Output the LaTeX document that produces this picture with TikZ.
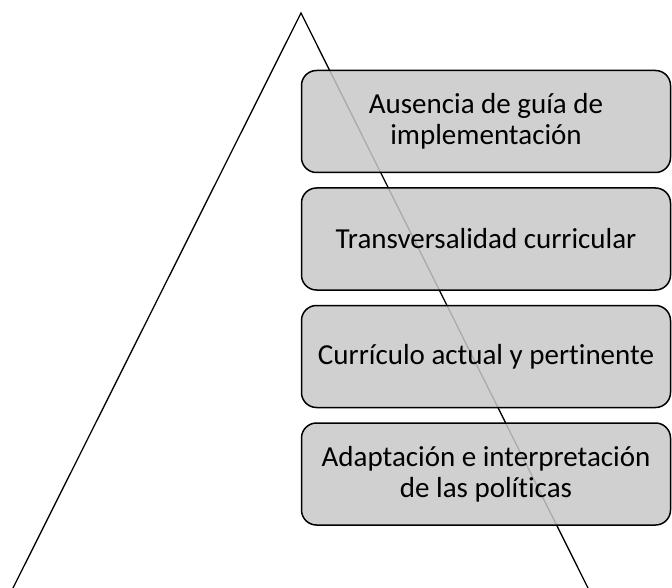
\documentclass[tikz,border=0pt]{standalone}
\usepackage{fontspec}
\setmainfont{Carlito}[Ligatures=NoCommon]
\usetikzlibrary{positioning}
\definecolor{boxgray}{RGB}{200,200,200}
\tikzset{
  levelbox/.style={draw=black, line width=1.5pt, fill=boxgray, fill opacity=0.85, text opacity=1,
    rounded corners=15pt, minimum width=369pt, minimum height=102pt, align=center,
    font=\fontsize{29}{30.7}\selectfont, inner sep=0pt}
}
\begin{document}
\begin{tikzpicture}[x=1pt,y=-1pt]
\useasboundingbox (0,0) rectangle (672,588);

% pyramid outline
\draw[line width=1.3pt] (13,588) -- (301,13) -- (588,588) ;

% levels
\node[levelbox] (guia) at (486,121.5) {Ausencia de guía de\\implementación};
\node[levelbox, below=14pt of guia] (transv) {Transversalidad curricular};
\node[levelbox, below=14pt of transv] (curric) {Currículo actual y pertinente};
\node[levelbox, below=14pt of curric] (adapt) {Adaptación e interpretación\\de las políticas};

\end{tikzpicture}
\end{document}
